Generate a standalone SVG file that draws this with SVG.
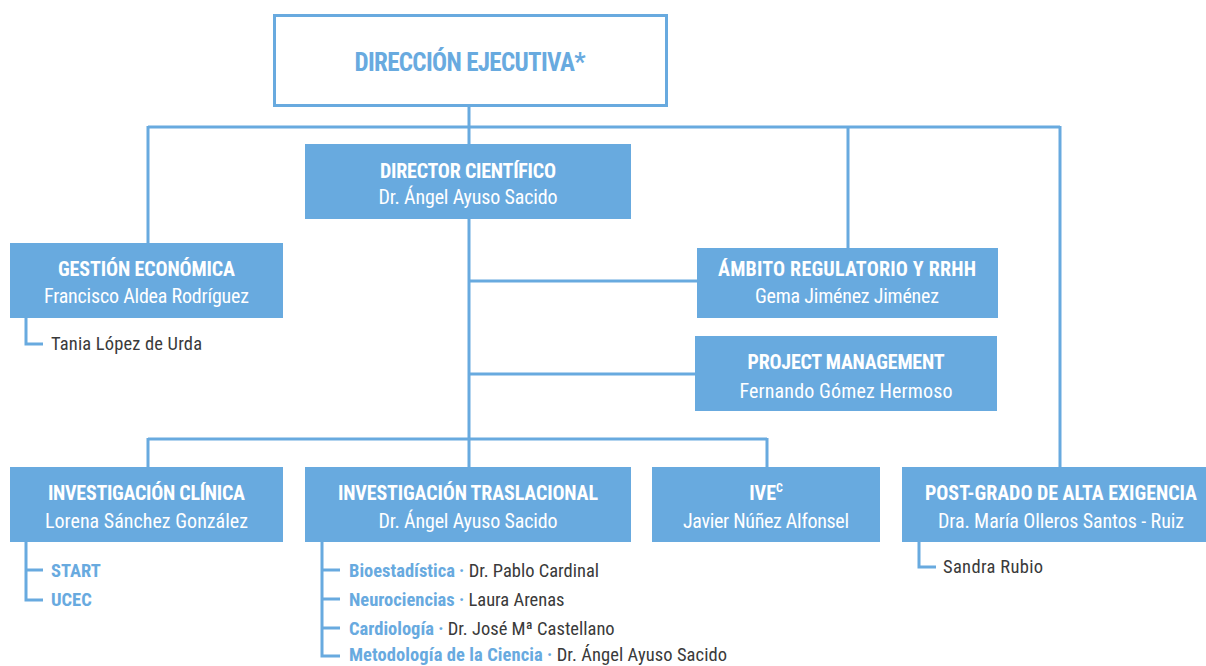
<svg xmlns="http://www.w3.org/2000/svg" width="1206" height="666" viewBox="0 0 1206 666">
<style>
.bx{fill:#68aadf}
.ln{stroke:#68aadf;stroke-width:3;fill:none}
text{font-family:"Liberation Sans Narrow","Roboto Condensed","Liberation Sans",sans-serif}
.t{fill:#fff;font-size:20px;font-weight:bold;text-anchor:middle}
.s{fill:#fff;font-size:20px;text-anchor:middle}
.d{fill:#3a3a3a;font-size:18.5px}
.b{fill:#68aadf;font-weight:bold}
</style>
<rect width="1206" height="666" fill="#fff"/>
<g id="connectors" class="ln">
<path d="M469 106V144M148 127H1060M148 126V243M848 126V248M1060 126V467"/>
<path d="M469 219V439M469 281H697M469 374H695M148 439H767M148 438V467M469 438V467M767 438V467"/>
<path d="M26 318V344H43"/>
<path d="M26 542V600H43M26 570H43"/>
<path d="M322 542V656H340M322 570H340M322 599H340M322 628H340"/>
<path d="M919 542V567H936"/>
</g>
<g id="direccion">
<rect x="274.5" y="15.5" width="392" height="90" fill="#fff" stroke="#68aadf" stroke-width="3"/>
<text x="470" y="71" text-anchor="middle" fill="#68aadf" font-size="25" font-weight="bold" textLength="231">DIRECCIÓN EJECUTIVA*</text>
</g>
<g id="director">
<rect class="bx" x="305" y="144" width="326" height="75"/>
<text class="t" x="468" y="178" textLength="176">DIRECTOR CIENTÍFICO</text>
<text class="s" x="468" y="204" textLength="179">Dr. Ángel Ayuso Sacido</text>
</g>
<g id="gestion">
<rect class="bx" x="10" y="243" width="273" height="75"/>
<text class="t" x="146.5" y="276" textLength="177">GESTIÓN ECONÓMICA</text>
<text class="s" x="146.5" y="303" textLength="205">Francisco Aldea Rodríguez</text>
<text class="d" x="51" y="350" textLength="151">Tania López de Urda</text>
</g>
<g id="ambito">
<rect class="bx" x="697" y="248" width="301" height="70"/>
<text class="t" x="847" y="276" textLength="258">ÁMBITO REGULATORIO Y RRHH</text>
<text class="s" x="847" y="303" textLength="184">Gema Jiménez Jiménez</text>
</g>
<g id="project">
<rect class="bx" x="695" y="336" width="302" height="75"/>
<text class="t" x="846" y="369" textLength="197">PROJECT MANAGEMENT</text>
<text class="s" x="846" y="398" textLength="213">Fernando Gómez Hermoso</text>
</g>
<g id="clinica">
<rect class="bx" x="10" y="467" width="273" height="75"/>
<text class="t" x="146.5" y="500" textLength="197">INVESTIGACIÓN CLÍNICA</text>
<text class="s" x="146.5" y="528" textLength="203">Lorena Sánchez González</text>
<text class="d b" x="51" y="577">START</text>
<text class="d b" x="51" y="606">UCEC</text>
</g>
<g id="traslacional">
<rect class="bx" x="305" y="467" width="326" height="75"/>
<text class="t" x="468" y="500" textLength="260">INVESTIGACIÓN TRASLACIONAL</text>
<text class="s" x="468" y="528" textLength="179">Dr. Ángel Ayuso Sacido</text>
<text class="d" x="349" y="577"><tspan class="b">Bioestadística ·</tspan> Dr. Pablo Cardinal</text>
<text class="d" x="349" y="606"><tspan class="b">Neurociencias ·</tspan> Laura Arenas</text>
<text class="d" x="349" y="635"><tspan class="b">Cardiología ·</tspan> Dr. José Mª Castellano</text>
<text class="d" x="349" y="661" textLength="378"><tspan class="b">Metodología de la Ciencia ·</tspan> Dr. Ángel Ayuso Sacido</text>
</g>
<g id="ive">
<rect class="bx" x="652" y="467" width="228" height="75"/>
<text class="t" x="766" y="500">IVE<tspan font-size="12" dy="-8">C</tspan></text>
<text class="s" x="766" y="528" textLength="166">Javier Núñez Alfonsel</text>
</g>
<g id="postgrado">
<rect class="bx" x="902" y="467" width="304" height="75"/>
<text class="t" x="1061" y="500" textLength="272">POST-GRADO DE ALTA EXIGENCIA</text>
<text class="s" x="1061" y="528" textLength="246">Dra. María Olleros Santos - Ruiz</text>
<text class="d" x="943" y="573" textLength="100">Sandra Rubio</text>
</g>
</svg>
